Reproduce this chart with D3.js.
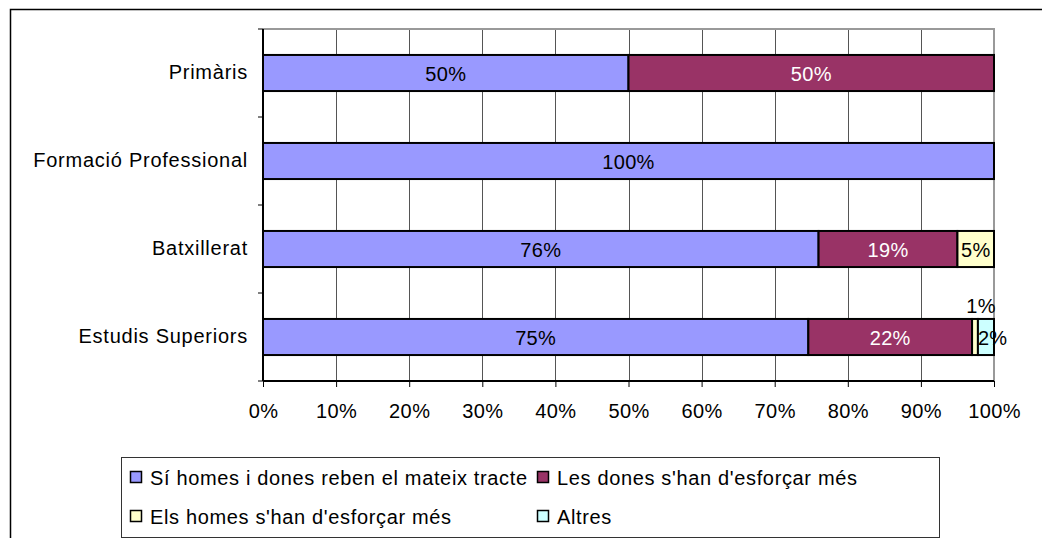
<!DOCTYPE html>
<html>
<head>
<meta charset="utf-8">
<script src="https://cdn.jsdelivr.net/npm/d3@7"></script>
<style>
  body { margin: 0; background: #fff; }
  svg { display: block; font-family: "Liberation Sans", Arial, sans-serif; }
</style>
</head>
<body>
<div id="chart"></div>
<script>
const categories = ['Primàris', 'Formació Professional', 'Batxillerat', 'Estudis Superiors'];
const seriesNames = [
  "Sí homes i dones reben el mateix tracte",
  "Les dones s'han d'esforçar més",
  "Els homes s'han d'esforçar més",
  "Altres"
];
const seriesColors = ['#9999FF', '#993366', '#FFFFCC', '#CCFFFF'];
const labelColors = ['#000', '#fff', '#000', '#000'];
// percentage values per category, one array per series
const sameTreatment = [50, 100, 76, 74.6];
const womenMore = [50, 0, 19, 22.4];
const menMore = [0, 0, 5, 0.8];
const others = [0, 0, 0, 2.2];
const xTicks = [0, 10, 20, 30, 40, 50, 60, 70, 80, 90, 100];

const width = 1042, height = 538;
const plot = { left: 263, right: 994, top: 29, bottom: 381 };

const svg = d3.select('#chart').append('svg')
  .attr('width', width)
  .attr('height', height);

// outer chart frame (cropped at right/bottom)
svg.append('rect')
  .attr('x', 10.5).attr('y', 9.5)
  .attr('width', 1045).attr('height', 545)
  .attr('fill', 'none').attr('stroke', '#000').attr('stroke-width', 1.5);

const x = d3.scaleLinear().domain([0, 100]).range([plot.left, plot.right]);
const y = d3.scaleBand().domain(categories).range([plot.top, plot.bottom]).paddingInner(0.59).paddingOuter(0.295);
const yOuter = d3.scaleBand().domain(categories).range([plot.top, plot.bottom]);

// vertical gridlines
svg.append('g').selectAll('line')
  .data(xTicks.slice(1, -1))
  .join('line')
  .attr('x1', d => Math.round(x(d)) + 0.5).attr('x2', d => Math.round(x(d)) + 0.5)
  .attr('y1', plot.top).attr('y2', plot.bottom)
  .attr('stroke', '#555').attr('stroke-width', 1);

// plot area border top / right
svg.append('path')
  .attr('d', `M${plot.left},${plot.top}H${plot.right}V${plot.bottom}`)
  .attr('fill', 'none').attr('stroke', '#999').attr('stroke-width', 2);

const series = [sameTreatment, womenMore, menMore, others];
const rows = categories.map((c, i) => {
  let acc = 0;
  return series.map((s, k) => {
    const v = s[i];
    const seg = { cat: c, k, v, x0: acc, x1: acc + v };
    acc += v;
    return seg;
  }).filter(d => d.v > 0);
});
const segs = rows.flat();

svg.append('g').selectAll('rect')
  .data(segs)
  .join('rect')
  .attr('x', d => x(d.x0))
  .attr('y', d => y(d.cat))
  .attr('width', d => x(d.x1) - x(d.x0))
  .attr('height', y.bandwidth())
  .attr('fill', d => seriesColors[d.k])
  .attr('stroke', '#000')
  .attr('stroke-width', 2);

// segment labels
svg.append('g').selectAll('text')
  .data(segs)
  .join('text')
  .attr('font-size', 20)
  .attr('letter-spacing', 0.3)
  .attr('fill', d => labelColors[d.k])
  .attr('dominant-baseline', 'central')
  .attr('text-anchor', d => {
    const w = x(d.x1) - x(d.x0);
    return w < 8 ? 'middle' : (w < 25 ? 'start' : 'middle');
  })
  .attr('x', d => {
    const w = x(d.x1) - x(d.x0);
    if (w < 8) return x(d.x0) + 9;
    if (w < 25) return x(d.x0);
    return (x(d.x0) + x(d.x1)) / 2;
  })
  .attr('y', d => {
    const w = x(d.x1) - x(d.x0);
    const c = y(d.cat) + y.bandwidth() / 2;
    return w < 8 ? y(d.cat) - 13 : c + 1;
  })
  .text(d => Math.round(d.v) + '%');

// x axis
const xAxis = svg.append('g')
  .attr('transform', `translate(0,${plot.bottom})`)
  .call(d3.axisBottom(x).tickValues(xTicks).tickFormat(d => d + '%').tickSize(6).tickPadding(17));
xAxis.select('.domain').attr('stroke', '#000').attr('stroke-width', 2).attr('d', `M${plot.left},0H${plot.right}`);
xAxis.selectAll('.tick line').attr('stroke', '#000');
xAxis.selectAll('.tick text').attr('font-size', 20).attr('letter-spacing', 0.4).attr('fill', '#000').attr('font-family', '"Liberation Sans", Arial, sans-serif');

// y axis
const yAxis = svg.append('g')
  .attr('transform', `translate(${plot.left},0)`)
  .call(d3.axisLeft(y).tickSize(0).tickPadding(15));
yAxis.select('.domain').attr('stroke', '#000').attr('stroke-width', 2).attr('d', `M0,${plot.top}V${plot.bottom}`);
yAxis.selectAll('.tick text').attr('font-size', 20).attr('letter-spacing', 0.75).attr('fill', '#000').attr('font-family', '"Liberation Sans", Arial, sans-serif');
const bounds = categories.map(c => yOuter(c)).concat([plot.bottom]);
yAxis.append('g').selectAll('line')
  .data(bounds)
  .join('line')
  .attr('x1', -5).attr('x2', 0)
  .attr('y1', d => d).attr('y2', d => d)
  .attr('stroke', '#000');

// legend
const legend = svg.append('g');
legend.append('rect')
  .attr('x', 121.5).attr('y', 457.5)
  .attr('width', 818).attr('height', 80)
  .attr('fill', '#fff').attr('stroke', '#333').attr('stroke-width', 1);
const legendPos = [[130, 478], [537, 478], [130, 517], [537, 517]];
const items = legend.selectAll('g.item')
  .data(seriesNames)
  .join('g')
  .attr('class', 'item')
  .attr('transform', (d, i) => `translate(${legendPos[i][0]},${legendPos[i][1]})`);
items.append('rect')
  .attr('x', 0.5).attr('y', -6.5)
  .attr('width', 11).attr('height', 11)
  .attr('fill', (d, i) => seriesColors[i])
  .attr('stroke', '#000').attr('stroke-width', 1.5);
items.append('text')
  .attr('x', 20).attr('y', 0)
  .attr('dominant-baseline', 'central')
  .attr('font-size', 20)
  .attr('letter-spacing', 0.65)
  .text(d => d);
</script>
</body>
</html>
